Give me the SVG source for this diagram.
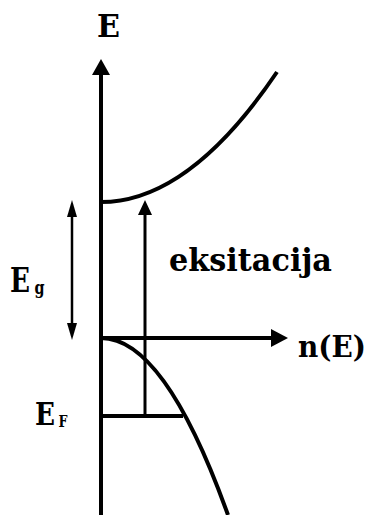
<svg xmlns="http://www.w3.org/2000/svg" width="371" height="515" viewBox="0 0 371 515">
<style>
.ln{stroke:#000;fill:none;stroke-linecap:butt}
.ah{fill:#000;stroke:none}
</style>
<rect width="371" height="515" fill="#fff"/>
<g id="connectors">
  <line class="ln" x1="101" y1="515" x2="101" y2="72" stroke-width="4"/>
  <polygon class="ah" points="101,59 92,75 110,75"/>
  <line class="ln" x1="101" y1="338" x2="273" y2="338" stroke-width="4"/>
  <polygon class="ah" points="288,338 271,329 271,347"/>
  <line class="ln" x1="101" y1="416" x2="183" y2="416" stroke-width="4"/>
  <line class="ln" x1="145" y1="416" x2="145" y2="213" stroke-width="3"/>
  <polygon class="ah" points="145,200 138,215 152,215"/>
  <line class="ln" x1="72" y1="214" x2="72" y2="326" stroke-width="2.5"/>
  <polygon class="ah" points="72,200 67,217 77,217"/>
  <polygon class="ah" points="72,340 67,323 77,323"/>
</g>
<g id="conduction-band">
  <path class="ln" d="M101,202 Q189,202 277,72" stroke-width="4"/>
</g>
<g id="valence-band">
  <path class="ln" d="M101,338 Q164.5,338 228,515" stroke-width="4"/>
</g>
<g font-family="'DejaVu Serif', 'Liberation Serif', serif" font-weight="bold" fill="#000">
<g id="label-E"><text x="97" y="37" font-size="32" textLength="23" lengthAdjust="spacingAndGlyphs">E</text></g>
<g id="label-eksitacija"><text x="169" y="271" font-size="32" textLength="163" lengthAdjust="spacingAndGlyphs">eksitacija</text></g>
<g id="label-nE"><text x="298" y="357" font-size="29" textLength="68" lengthAdjust="spacingAndGlyphs">n(E)</text></g>
<g id="label-Eg"><text x="10" y="292" font-size="33" textLength="20" lengthAdjust="spacingAndGlyphs">E</text><text x="34.5" y="294" font-size="19" textLength="10" lengthAdjust="spacingAndGlyphs">g</text></g>
<g id="label-EF"><text x="35" y="425" font-size="32" textLength="20" lengthAdjust="spacingAndGlyphs">E</text><text x="58.5" y="427" font-size="17" textLength="9" lengthAdjust="spacingAndGlyphs">F</text></g>
</g>
</svg>
